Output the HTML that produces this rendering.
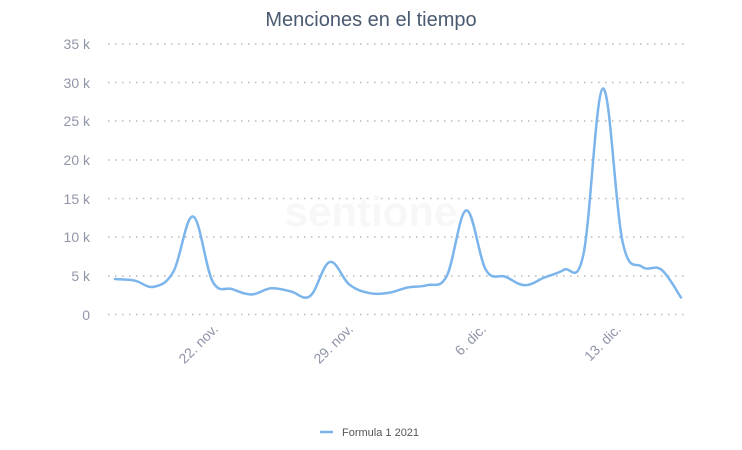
<!DOCTYPE html>
<html><head><meta charset="utf-8"><style>
body{margin:0;background:#fff;}
svg{display:block;font-family:"Liberation Sans",sans-serif;}
</style></head><body>
<svg width="742" height="450" viewBox="0 0 742 450">
<text x="371" y="26" text-anchor="middle" font-size="20" fill="#4a5a70">Menciones en el tiempo</text>
<g stroke="#b8b8b8" stroke-width="1.5" stroke-dasharray="1.5,5.5">
<line x1="108" x2="684" y1="44" y2="44"/>
<line x1="108" x2="684" y1="82.5" y2="82.5"/>
<line x1="108" x2="684" y1="121" y2="121"/>
<line x1="108" x2="684" y1="160" y2="160"/>
<line x1="108" x2="684" y1="198.5" y2="198.5"/>
<line x1="108" x2="684" y1="237" y2="237"/>
<line x1="108" x2="684" y1="276" y2="276"/>
<line x1="108" x2="684" y1="314.5" y2="314.5"/>
</g>
<g font-size="14" fill="#9095a8" text-anchor="end">
<text x="90" y="49">35 k</text>
<text x="90" y="88">30 k</text>
<text x="90" y="126">25 k</text>
<text x="90" y="165">20 k</text>
<text x="90" y="204">15 k</text>
<text x="90" y="242">10 k</text>
<text x="90" y="281">5 k</text>
<text x="90" y="320">0</text>
</g>
<g font-size="14" fill="#9095a8" text-anchor="end">
<text transform="translate(219,330) rotate(-45)">22. nov.</text>
<text transform="translate(354,330) rotate(-45)">29. nov.</text>
<text transform="translate(487,330) rotate(-45)">6. dic.</text>
<text transform="translate(622,330) rotate(-45)">13. dic.</text>
</g>
<text x="371" y="226" text-anchor="middle" font-size="42" fill="#f7f7f7" font-weight="bold">sentione</text>
<path id="ln" fill="none" stroke="#7cb5ec" stroke-width="2.5" stroke-linejoin="round" stroke-linecap="round"/>
<line x1="320" x2="333" y1="432" y2="432" stroke="#7cb5ec" stroke-width="2.5"/>
<text x="342" y="436" font-size="11" fill="#555">Formula 1 2021</text>
</svg>
<script>
var v=[4.6,4.4,3.6,5.6,12.7,4.3,3.3,2.6,3.4,3.0,2.4,6.8,3.9,2.8,2.8,3.5,3.8,5.0,13.5,5.8,4.9,3.8,4.8,5.8,7.8,29.3,9.5,6.2,5.8,2.2];
var p=v.map(function(d,i){var x=115+i*(566/29);return [x,314.5-d*7.71];});
var s="M"+p[0][0]+","+p[0][1];
for(var i=0;i<p.length-1;i++){var a=p[Math.max(i-1,0)],b=p[i],c=p[i+1],d=p[Math.min(i+2,p.length-1)];var t=0.18;
s+=" C"+(b[0]+(c[0]-a[0])*t)+","+(b[1]+(c[1]-a[1])*t)+" "+(c[0]-(d[0]-b[0])*t)+","+(c[1]-(d[1]-b[1])*t)+" "+c[0]+","+c[1];}
document.getElementById("ln").setAttribute("d",s);
</script>
</body></html>
